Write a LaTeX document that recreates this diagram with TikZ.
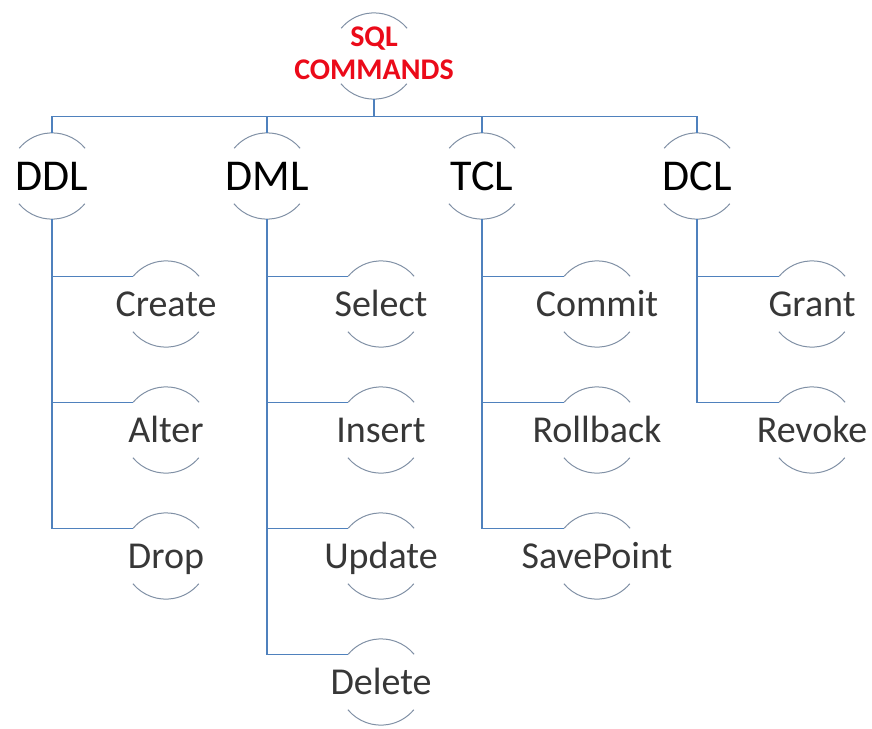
\documentclass[tikz,border=0pt]{standalone}
\usepackage{fontspec}
\setmainfont{Carlito}
\usepackage{tikz}

\definecolor{linkblue}{RGB}{79,129,189}
\definecolor{capgray}{RGB}{128,144,165}
\definecolor{sqlred}{RGB}{235,10,25}
\definecolor{leafgray}{RGB}{55,55,55}

\tikzset{
  bubble/.style={circle, minimum size=86pt, inner sep=0pt},
  rootlabel/.style={font=\fontsize{30}{33}\selectfont\bfseries, text=sqlred, align=center},
  toplabel/.style={font=\fontsize{44}{44}\selectfont, text=black, text height=29pt, text depth=0pt},
  leaflabel/.style={font=\fontsize{38}{38}\selectfont, text=leafgray, text height=25pt, text depth=0pt},
  link/.style={draw=linkblue, line width=1.3pt},
  capline/.style={draw=capgray, line width=1pt},
}
\newcommand{\bubblecaps}[1]{%
  \draw[capline] (#1.40) arc[start angle=40, end angle=140, radius=43pt];
  \draw[capline] (#1.220) arc[start angle=220, end angle=320, radius=43pt];}

\begin{document}
\begin{tikzpicture}[x=1pt, y=1pt]
    \useasboundingbox (0,0) rectangle (872,-728);
    % Root
    \node[bubble, label={[rootlabel, yshift=3pt]center:SQL\\COMMANDS}] (root) at (374,-56) {};
    % Command groups
    \node[bubble, label={[toplabel]center:DDL}] (ddl) at (52,-176) {};
    \node[bubble, label={[toplabel]center:DML}] (dml) at (267,-176) {};
    \node[bubble, label={[toplabel]center:TCL}] (tcl) at (482,-176) {};
    \node[bubble, label={[toplabel]center:DCL}] (dcl) at (697,-176) {};
    % Commands
    \node[bubble, label={[leaflabel]center:Create}] (create) at (166,-304) {};
    \node[bubble, label={[leaflabel]center:Alter}] (alter) at (166,-430) {};
    \node[bubble, label={[leaflabel]center:Drop}] (drop) at (166,-556) {};
    \node[bubble, label={[leaflabel]center:Select}] (select) at (381,-304) {};
    \node[bubble, label={[leaflabel]center:Insert}] (insert) at (381,-430) {};
    \node[bubble, label={[leaflabel]center:Update}] (update) at (381,-556) {};
    \node[bubble, label={[leaflabel]center:Delete}] (delete) at (381,-682) {};
    \node[bubble, label={[leaflabel]center:Commit}] (commit) at (597,-304) {};
    \node[bubble, label={[leaflabel]center:Rollback}] (rollback) at (597,-430) {};
    \node[bubble, label={[leaflabel]center:SavePoint}] (savepoint) at (597,-556) {};
    \node[bubble, label={[leaflabel]center:Grant}] (grant) at (812,-304) {};
    \node[bubble, label={[leaflabel]center:Revoke}] (revoke) at (812,-430) {};
    % Arcs above and below each text
    \foreach \n in {root,ddl,dml,tcl,dcl,create,alter,drop,select,insert,update,delete,
                    commit,rollback,savepoint,grant,revoke}
        {\bubblecaps{\n}}
    % Root to groups
    \foreach \n in {ddl,dml,tcl,dcl}
        \draw[link] (root.south) -- ++(0,-17) -| (\n.north);
    % Groups to commands
    \foreach \p/\c in {ddl/create,ddl/alter,ddl/drop,dml/select,dml/insert,dml/update,
                       dml/delete,tcl/commit,tcl/rollback,tcl/savepoint,dcl/grant,dcl/revoke}
        \draw[link] (\p.south) |- (\c.140);
\end{tikzpicture}
\end{document}
